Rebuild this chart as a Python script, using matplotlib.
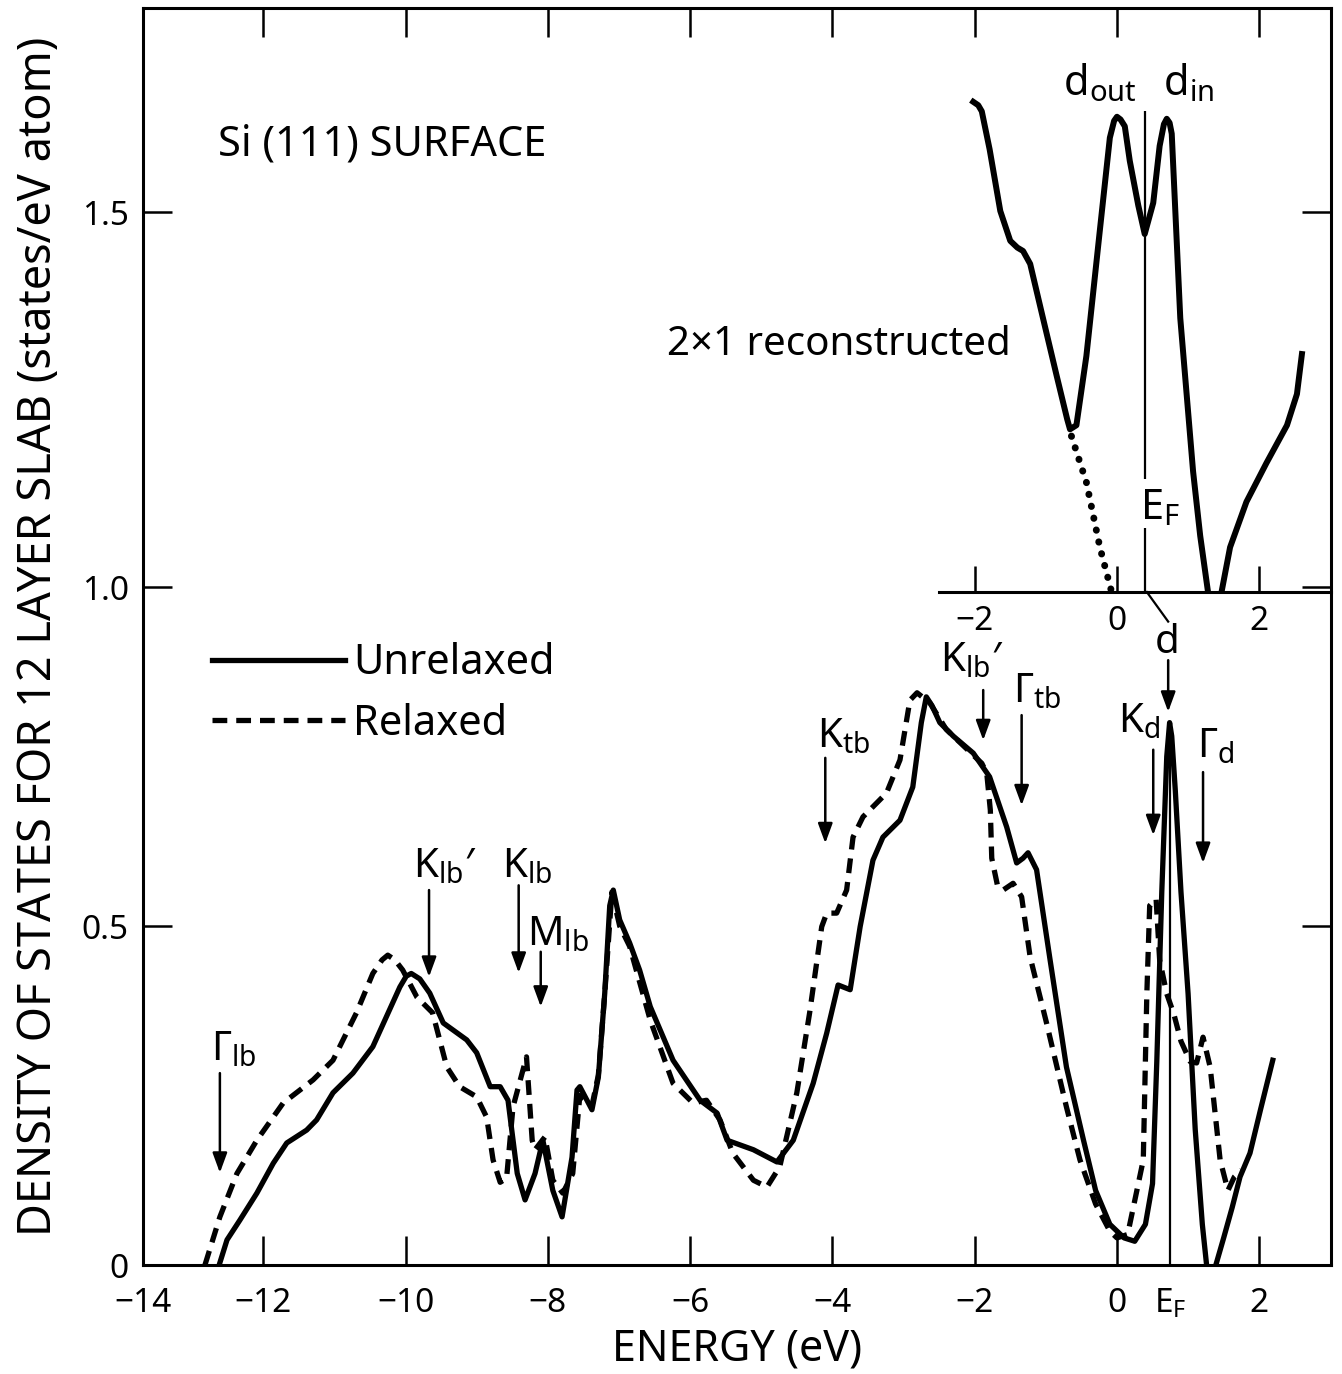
import numpy as np
import matplotlib
matplotlib.use("Agg")
import matplotlib.pyplot as plt

plt.rcParams['font.family'] = ['Noto Sans', 'DejaVu Sans']
plt.rcParams['mathtext.default'] = 'regular'

# main panel: 12 layer slab DOS (energy in eV, states/eV atom)
e_unrelaxed = [-12.62, -12.51, -12.33, -12.09, -11.86, -11.67, -11.39, -11.25, -11.02, -10.74,
               -10.46, -10.27, -10.08, -9.99, -9.92, -9.80, -9.66, -9.47, -9.14, -9.00,
               -8.81, -8.67, -8.56, -8.43, -8.32, -8.18, -8.07, -7.93, -7.80, -7.66,
               -7.59, -7.55, -7.38, -7.29, -7.20, -7.13, -7.08, -6.99, -6.85, -6.71,
               -6.56, -6.24, -5.86, -5.62, -5.48, -5.11, -4.78, -4.55, -4.27, -4.08,
               -3.92, -3.75, -3.61, -3.43, -3.29, -3.05, -2.87, -2.75, -2.68, -2.60,
               -2.49, -2.30, -2.02, -1.79, -1.55, -1.41, -1.32, -1.25, -1.13, -0.94,
               -0.71, -0.47, -0.30, -0.10, 0.10, 0.25, 0.40, 0.50, 0.56, 0.63,
               0.70, 0.74, 0.77, 0.82, 0.90, 1.00, 1.10, 1.20, 1.26]
dos_unrelaxed = [0.0, 0.037, 0.066, 0.106, 0.150, 0.18, 0.199, 0.214, 0.254, 0.283,
                 0.322, 0.366, 0.41, 0.426, 0.430, 0.422, 0.401, 0.357, 0.332, 0.313,
                 0.263, 0.263, 0.243, 0.135, 0.096, 0.135, 0.184, 0.11, 0.071, 0.159,
                 0.258, 0.263, 0.229, 0.277, 0.401, 0.53, 0.553, 0.509, 0.475, 0.435,
                 0.381, 0.302, 0.243, 0.224, 0.184, 0.170, 0.152, 0.184, 0.268, 0.342,
                 0.413, 0.406, 0.499, 0.597, 0.631, 0.656, 0.705, 0.80, 0.838, 0.825,
                 0.80, 0.78, 0.755, 0.72, 0.646, 0.593, 0.600, 0.608, 0.583, 0.45,
                 0.292, 0.184, 0.11, 0.06, 0.04, 0.035, 0.06, 0.12, 0.30, 0.55,
                 0.75, 0.80, 0.78, 0.70, 0.55, 0.40, 0.20, 0.06, 0.0]
e_unrelaxed_cb = [1.39, 1.50, 1.62, 1.73, 1.87, 2.02, 2.19]
dos_unrelaxed_cb = [0.0, 0.04, 0.085, 0.13, 0.165, 0.23, 0.302]

e_relaxed = [-12.82, -12.61, -12.37, -12.09, -11.72, -11.30, -11.02, -10.69, -10.46, -10.33,
             -10.25, -10.15, -10.04, -9.84, -9.62, -9.42, -9.24, -9.00, -8.86, -8.77,
             -8.67, -8.58, -8.49, -8.30, -8.22, -8.18, -8.04, -7.93, -7.79, -7.65,
             -7.55, -7.38, -7.29, -7.20, -7.10, -6.99, -6.85, -6.56, -6.24, -5.96,
             -5.77, -5.58, -5.40, -5.11, -4.92, -4.74, -4.50, -4.32, -4.15, -4.08,
             -3.94, -3.80, -3.71, -3.57, -3.24, -3.05, -2.91, -2.81, -2.63, -2.40,
             -2.10, -1.90, -1.83, -1.78, -1.76, -1.68, -1.60, -1.46, -1.34, -1.22,
             -0.99, -0.71, -0.52, -0.30, -0.10, 0.00, 0.15, 0.30, 0.37, 0.42,
             0.46, 0.55, 0.60, 0.70, 0.80, 0.90, 1.03, 1.12, 1.21, 1.31,
             1.45, 1.56, 1.65, 1.75]
dos_relaxed = [0.0, 0.071, 0.135, 0.184, 0.239, 0.273, 0.302, 0.372, 0.430, 0.450,
               0.457, 0.450, 0.435, 0.395, 0.372, 0.292, 0.263, 0.248, 0.218, 0.155,
               0.122, 0.128, 0.233, 0.307, 0.184, 0.17, 0.189, 0.125, 0.106, 0.135,
               0.25, 0.235, 0.28, 0.40, 0.55, 0.50, 0.47, 0.361, 0.268, 0.239,
               0.243, 0.214, 0.165, 0.125, 0.115, 0.145, 0.254, 0.372, 0.499, 0.519,
               0.519, 0.553, 0.631, 0.661, 0.696, 0.745, 0.833, 0.844, 0.829, 0.79,
               0.76, 0.74, 0.725, 0.671, 0.60, 0.56, 0.553, 0.563, 0.543, 0.454,
               0.357, 0.233, 0.155, 0.09, 0.05, 0.04, 0.045, 0.12, 0.155, 0.40,
               0.53, 0.54, 0.45, 0.40, 0.37, 0.33, 0.30, 0.298, 0.336, 0.292,
               0.155, 0.11, 0.13, 0.14]

EF_MAIN = 0.75
EF_INSET = 0.40

# inset: 2x1 reconstructed surface
e_inset = [-2.02, -1.95, -1.90, -1.79, -1.64, -1.50, -1.40, -1.32, -1.22, -1.04,
           -0.85, -0.70, -0.66, -0.57, -0.43, -0.24, -0.10, -0.04, 0.0, 0.05,
           0.11, 0.18, 0.30, 0.39, 0.51, 0.60, 0.66, 0.70, 0.74, 0.77,
           0.89, 1.07, 1.17, 1.28]
dos_inset = [0.723, 0.718, 0.709, 0.653, 0.562, 0.518, 0.508, 0.503, 0.484, 0.404,
             0.320, 0.255, 0.240, 0.246, 0.348, 0.534, 0.670, 0.695, 0.701, 0.697,
             0.687, 0.636, 0.57, 0.528, 0.574, 0.658, 0.690, 0.698, 0.692, 0.676,
             0.404, 0.178, 0.083, 0.0]
e_inset_cb = [1.47, 1.59, 1.82, 2.10, 2.39, 2.53, 2.60]
dos_inset_cb = [0.0, 0.066, 0.133, 0.19, 0.246, 0.292, 0.351]
e_inset_dotted = [-0.64, -0.43, -0.24, -0.075]
dos_inset_dotted = [0.23, 0.162, 0.066, 0.0]

x_ticks = [-12, -10, -8, -6, -4, -2, 0, 2]
x_ticklabels = ['\u221212', '\u221210', '\u22128', '\u22126', '\u22124', '\u22122', '0', '2']
y_ticklabels = ['0', '0.5', '1.0', '1.5']
inset_ticks = [-2, 0, 2]
inset_ticklabels = ['\u22122', '0', '2']

# (label, text x, text baseline, arrow x, arrow tail, arrow tip)
peak_labels = [
    (r'Γ$_{lb}$', -12.73, 0.302, -12.61, 0.283, 0.136),
    (r'K$_{lb}$′', -9.90, 0.571, -9.67, 0.553, 0.425),
    (r'K$_{lb}$', -8.64, 0.571, -8.41, 0.560, 0.431),
    (r'M$_{lb}$', -8.29, 0.472, -8.10, 0.462, 0.381),
    (r'K$_{tb}$', -4.22, 0.763, -4.10, 0.748, 0.622),
    (r'K$_{lb}$′', -2.49, 0.875, -1.88, 0.848, 0.774),
    (r'Γ$_{tb}$', -1.46, 0.830, -1.34, 0.811, 0.678),
    (r'K$_{d}$', 0.01, 0.786, 0.51, 0.760, 0.634),
    (r'Γ$_{d}$', 1.12, 0.748, 1.21, 0.727, 0.593),
]

fig = plt.figure(figsize=(13.42, 13.74), dpi=100)
ax = fig.add_axes([0.10633, 0.07933, 0.88517, 0.91485])

lw = 3.8
dash = (0, (2.8, 1.7))
unrel, = ax.plot(e_unrelaxed, dos_unrelaxed, color='k', lw=lw, label='Unrelaxed')
ax.plot(e_unrelaxed_cb, dos_unrelaxed_cb, color='k', lw=lw)
rel, = ax.plot(e_relaxed, dos_relaxed, color='k', lw=lw, ls=dash, label='Relaxed')
ax.vlines(EF_MAIN, 0, 0.80, color='k', lw=1.6)

ax.set_xlim(-13.695, 3.003)
ax.set_ylim(0, 1.854)
ax.set_xticks(x_ticks, labels=x_ticklabels)
ax.set_xticks([-13.695, EF_MAIN], labels=['\u221214', 'E$_F$'], minor=True)
ax.set_yticks([0, 0.5, 1.0, 1.553], labels=y_ticklabels)
ax.tick_params(which='major', direction='in', length=21, width=1.8,
               top=True, right=True, labelsize=24)
ax.tick_params(axis='x', which='major', pad=16)
ax.tick_params(axis='x', which='minor', length=0, pad=16, labelsize=24)
ax.tick_params(axis='y', pad=10)
for sp in ax.spines.values():
    sp.set_linewidth(2.2)

ax.set_xlabel('ENERGY (eV)', fontsize=31)
ax.xaxis.set_label_coords(0.5, -0.05)
ax.set_ylabel('DENSITY OF STATES FOR 12 LAYER SLAB (states/eV atom)', fontsize=32.5)
ax.yaxis.set_label_coords(-0.068, 0.5)

for text, tx, ty, ax_x, tail, tip in peak_labels:
    ax.text(tx, ty, text, fontsize=29, ha='left', va='baseline')
    ax.annotate('', xy=(ax_x, tip), xytext=(ax_x, tail),
                arrowprops=dict(arrowstyle='-|>,head_length=0.6,head_width=0.22',
                                lw=1.8, color='k', mutation_scale=20,
                                shrinkA=0, shrinkB=0))
ax.text(0.70, 0.903, 'd', fontsize=29, ha='center', va='baseline')
ax.annotate('', xy=(0.72, 0.816), xytext=(0.72, 0.892),
            arrowprops=dict(arrowstyle='-|>,head_length=0.6,head_width=0.22',
                            lw=1.8, color='k', mutation_scale=20, shrinkA=0, shrinkB=0))
ax.plot([EF_INSET + 0.02, 0.72], [0.9926, 0.949], color='k', lw=1.6)

ax.text(-12.64, 1.637, 'Si (111) SURFACE', fontsize=30, ha='left', va='baseline')
ax.text(-6.33, 1.342, '2\u00d71 reconstructed', fontsize=29, ha='left', va='baseline')
ax.text(-0.76, 1.726, r'd$_{out}$', fontsize=30, ha='left', va='baseline')
ax.text(0.65, 1.726, r'd$_{in}$', fontsize=30, ha='left', va='baseline')

ax.legend(handles=[unrel, rel], loc='upper left',
          bbox_to_anchor=(0.058, 0.4955), frameon=False, fontsize=30,
          handlelength=3.2, handletextpad=0.2, labelspacing=0.45,
          borderpad=0, borderaxespad=0)

# inset sharing the main energy scale
ins = ax.inset_axes([-2.50, 0.9926, 3.003 + 2.50, 1.854 - 0.9926], transform=ax.transData)
ins.set_facecolor('none')
ins.plot(e_inset, dos_inset, color='k', lw=4.3)
ins.plot(e_inset_cb, dos_inset_cb, color='k', lw=4.3)
ins.plot(e_inset_dotted, dos_inset_dotted, color='k', lw=5, ls=(0, (0.05, 1.7)),
         dash_capstyle='round')
ins.vlines([EF_INSET, EF_INSET], [0, 0.167], [0.094, 0.709], color='k', lw=1.6)
ins.text(0.323, 0.108, 'E$_F$', fontsize=30, ha='left', va='baseline')
ins.set_xlim(-2.50, 3.003)
ins.set_ylim(0, 1.854 - 0.9926)
for name in ['top', 'left', 'right']:
    ins.spines[name].set_visible(False)
ins.spines['bottom'].set_linewidth(2.2)
ins.set_yticks([])
ins.set_xticks(inset_ticks, labels=inset_ticklabels)
ins.tick_params(axis='x', direction='in', length=19, width=1.8, labelsize=24, pad=9)

fig.savefig('out.png', dpi=100)
